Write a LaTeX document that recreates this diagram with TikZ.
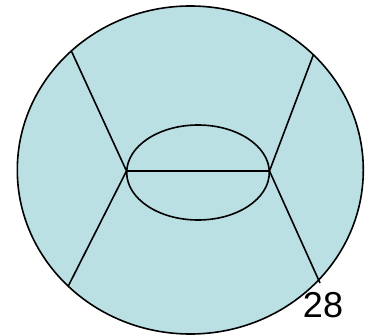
\documentclass[tikz,border=0pt]{standalone}
\usepackage{fontspec}
\setmainfont{Liberation Sans}
\usepackage{xcolor}
\definecolor{eyeBlue}{RGB}{187,224,228}
\usepackage{tikz}

\begin{document}
\begin{tikzpicture}[
		x=1pt, y=1pt,
		outline/.style={draw=black, line width=1.6pt},
		seg/.style={black, line width=1.6pt},
		every node/.style={inner sep=0pt, font=\fontsize{36}{42}\selectfont}
		]
		
		\useasboundingbox (0,0) rectangle (374,335);
		
		% outer disc and inner oval
		\draw[outline, fill=eyeBlue] (190.3,165) ellipse [x radius=173, y radius=164];
		\draw[outline] (198,162.5) ellipse [x radius=71.3, y radius=47.5];
		
		\coordinate (left) at (126.5,164);
		\coordinate (right) at (269.5,164);
		\coordinate (ul) at (71.7,283.3);
		\coordinate (ll) at (68.3,49);
		\coordinate (ur) at (313.3,280);
		\coordinate (lr) at (320,52);
		
		\draw[seg] (left) -- (right);
		\draw[seg] (ul) -- (left) -- (ll);
		\draw[seg] (ur) -- (right) -- (lr);
		
		\node[anchor=base] (num) at (323,17.7) {28};
		
	\end{tikzpicture}
\end{document}
